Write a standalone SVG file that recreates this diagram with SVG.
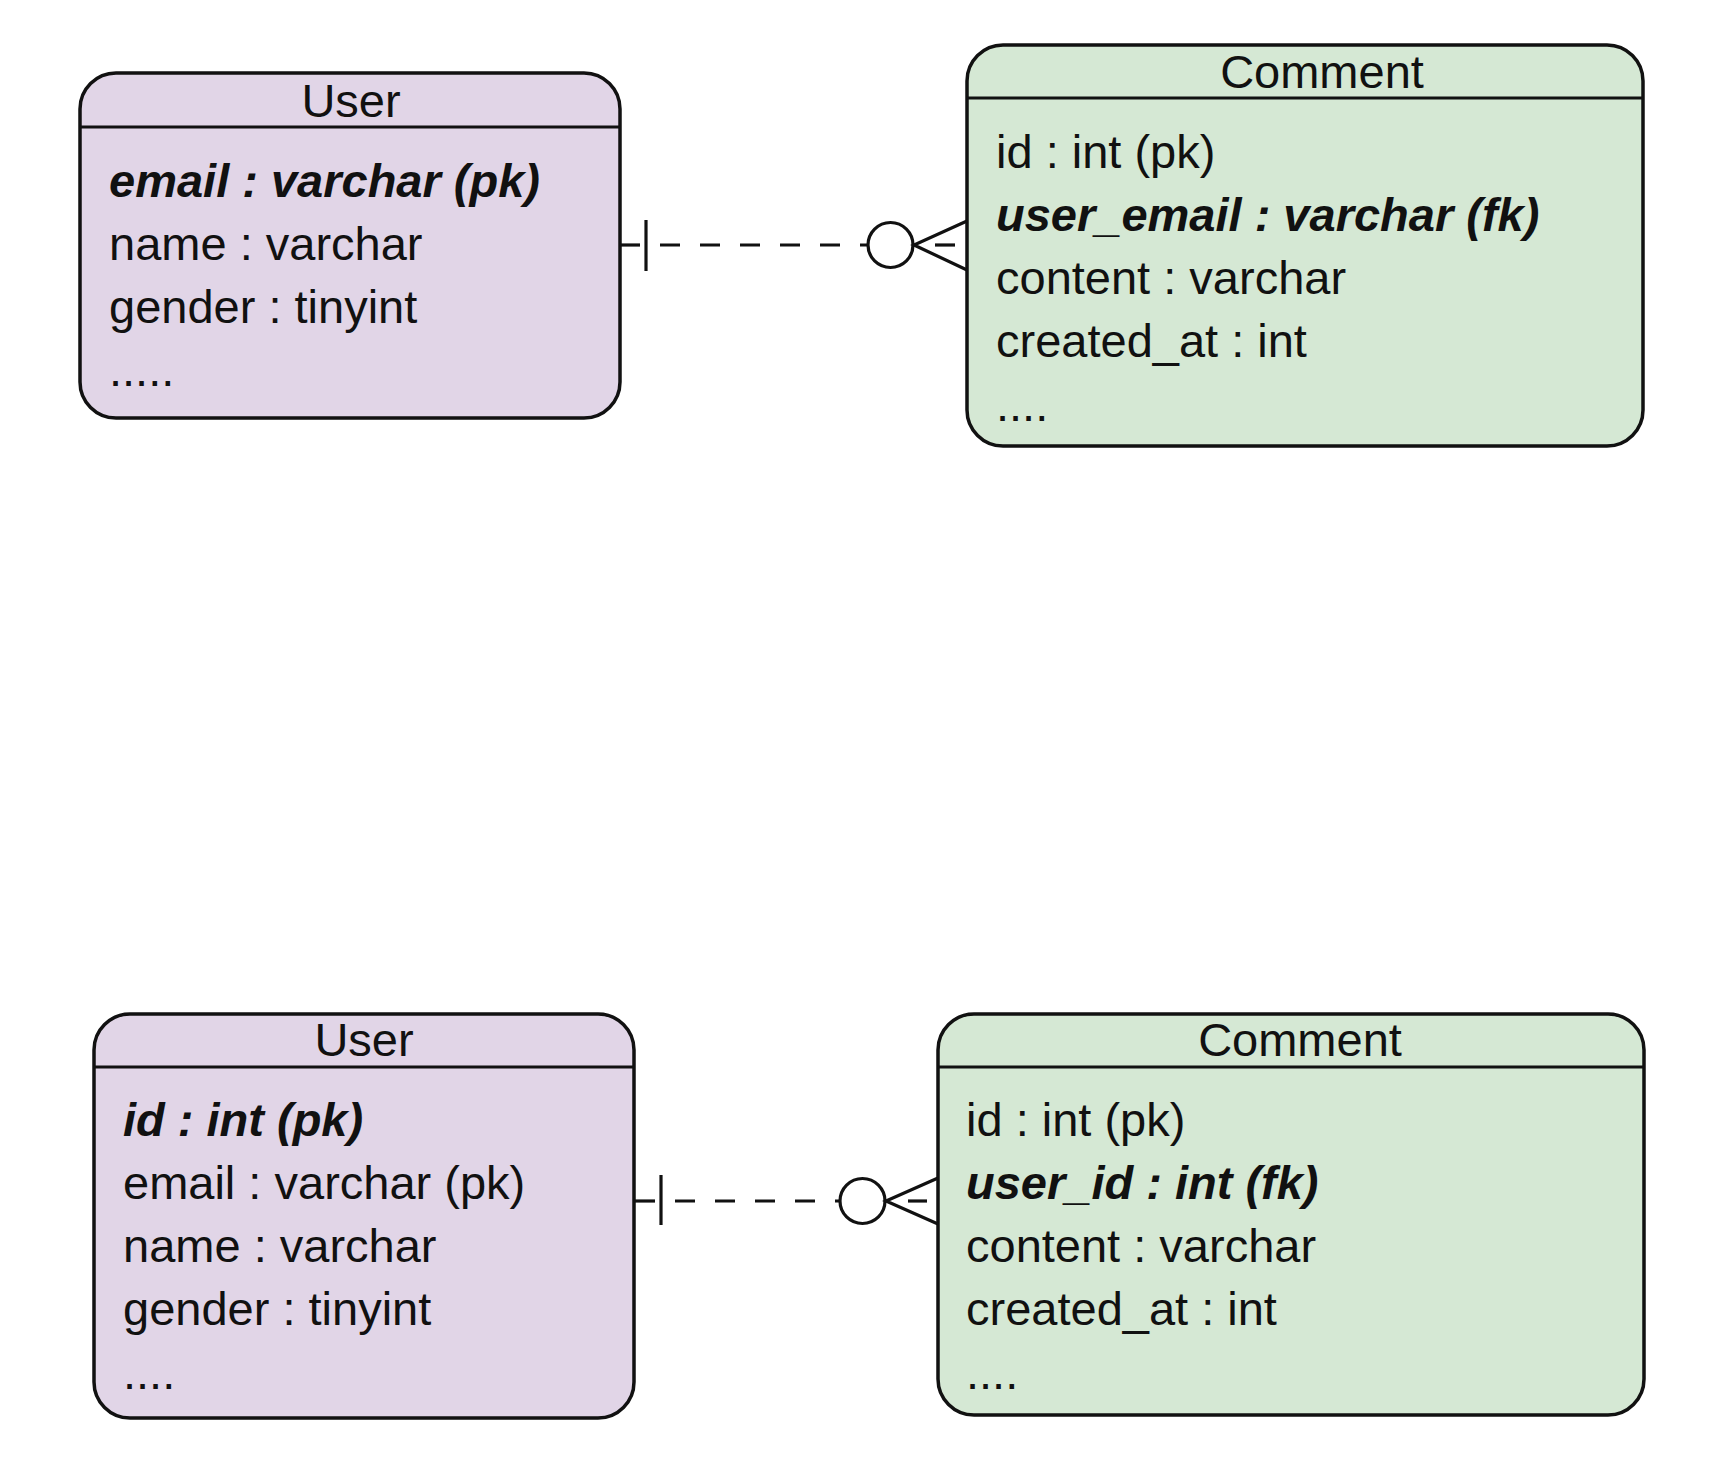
<svg xmlns="http://www.w3.org/2000/svg" width="1716" height="1478" viewBox="0 0 1716 1478">
<style>
.box{stroke:#111;stroke-width:3.5}
.user{fill:#e1d5e7}
.comment{fill:#d5e8d4}
.sep{stroke:#111;stroke-width:3}
text{font-family:"Liberation Sans",Arial,sans-serif;font-size:47px;fill:#111}
.title{text-anchor:middle}
.key{font-weight:bold;font-style:italic}
.ln{stroke:#111;stroke-width:3.2;fill:none}
.dash{stroke-dasharray:20 20}
.circ{stroke:#111;stroke-width:3.2;fill:#fff}
</style>
<rect width="1716" height="1478" fill="#fff"/>
<g id="user1">
<rect class="box user" x="80" y="73" width="540" height="345" rx="36"/>
<line class="sep" x1="80" y1="127" x2="620" y2="127"/>
<text class="title" x="351" y="117">User</text>
<text class="key" x="109" y="197">email : varchar (pk)</text>
<text x="109" y="260">name : varchar</text>
<text x="109" y="323">gender : tinyint</text>
<text x="109" y="386">.....</text>
</g>
<g id="comment1">
<rect class="box comment" x="967" y="45" width="676" height="401" rx="36"/>
<line class="sep" x1="967" y1="98" x2="1643" y2="98"/>
<text class="title" x="1322" y="88">Comment</text>
<text x="996" y="168">id : int (pk)</text>
<text class="key" x="996" y="231">user_email : varchar (fk)</text>
<text x="996" y="294">content : varchar</text>
<text x="996" y="357">created_at : int</text>
<text x="996" y="421">....</text>
</g>
<g id="user2">
<rect class="box user" x="94" y="1014" width="540" height="404" rx="36"/>
<line class="sep" x1="94" y1="1067" x2="634" y2="1067"/>
<text class="title" x="364" y="1056">User</text>
<text class="key" x="123" y="1136">id : int (pk)</text>
<text x="123" y="1199">email : varchar (pk)</text>
<text x="123" y="1262">name : varchar</text>
<text x="123" y="1325">gender : tinyint</text>
<text x="123" y="1389">....</text>
</g>
<g id="comment2">
<rect class="box comment" x="938" y="1014" width="706" height="401" rx="36"/>
<line class="sep" x1="938" y1="1067" x2="1644" y2="1067"/>
<text class="title" x="1300" y="1056">Comment</text>
<text x="966" y="1136">id : int (pk)</text>
<text class="key" x="966" y="1199">user_id : int (fk)</text>
<text x="966" y="1262">content : varchar</text>
<text x="966" y="1325">created_at : int</text>
<text x="966" y="1389">....</text>
</g>
<g id="connectors">
<g id="c1">
<line class="ln" x1="620" y1="245" x2="640" y2="245"/>
<line class="ln" x1="646" y1="220" x2="646" y2="271"/>
<line class="ln dash" x1="660" y1="245" x2="868" y2="245"/>
<circle class="circ" cx="890.5" cy="245" r="22.5"/>
<polyline class="ln" points="967,221 914,245 967,270"/>
<line class="ln" x1="935" y1="245" x2="955" y2="245"/>
</g>
<g id="c2">
<line class="ln" x1="634" y1="1201" x2="655" y2="1201"/>
<line class="ln" x1="661" y1="1175" x2="661" y2="1225"/>
<line class="ln dash" x1="675" y1="1201" x2="840" y2="1201"/>
<circle class="circ" cx="862.5" cy="1201" r="22.5"/>
<polyline class="ln" points="938,1178 886,1201 938,1224"/>
<line class="ln" x1="908" y1="1201" x2="927" y2="1201"/>
</g>
</g>
</svg>
